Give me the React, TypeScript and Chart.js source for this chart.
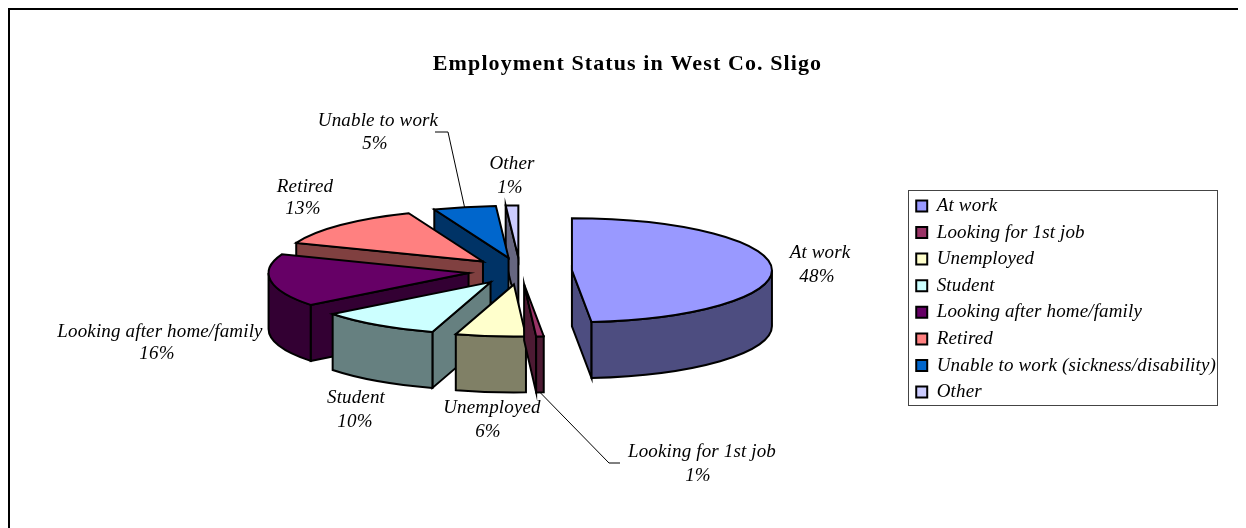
import React, { useEffect, useRef } from "react";
import { Chart, registerables } from "chart.js";

Chart.register(...registerables);

const categories = [
  "At work",
  "Looking for 1st job",
  "Unemployed",
  "Student",
  "Looking after home/family",
  "Retired",
  "Unable to work (sickness/disability)",
  "Other",
];
const calloutNames = [
  "At work",
  "Looking for 1st job",
  "Unemployed",
  "Student",
  "Looking after home/family",
  "Retired",
  "Unable to work",
  "Other",
];
const shares = [48, 0.6, 5.6, 9.7, 16.2, 13, 5, 1];
const shareLabels = ["48%", "1%", "6%", "10%", "16%", "13%", "5%", "1%"];
const sliceColors = ["#9999FF", "#993366", "#FFFFCC", "#CCFFFF", "#660066", "#FF8080", "#0066CC", "#CCCCFF"];

// Layout of the callouts, canvas pixels (page minus the 8px body margin).
const calloutCentres = [
  [812, 245, 809, 269],
  [694, 444, 690, 468],
  [484, 400, 480, 424],
  [348, 390, 347, 414],
  [152, 324, 149, 346],
  [297, 179, 295, 201],
  [370, 113, 367, 136],
  [504, 156, 502, 180],
];
const leaders: Record<number, number[][]> = {
  6: [[427, 124], [440, 124]],
  1: [[612, 455], [601, 455]],
};

const PIE = { cx: 512, cy: 263, radius: 200, squash: 0.26, depth: 56, explode: 52 };
const CANVAS_W = 1238;
const CANVAS_H = 520;
const SERIF = "'Liberation Serif', serif";
const LABEL_SPACING = "0.15px";
const TITLE_SPACING = "1.1px";

function shade(hex: string) {
  const n = parseInt(hex.slice(1), 16);
  const f = (v: number) => Math.round(v * 0.5);
  return `rgb(${f((n >> 16) & 255)},${f((n >> 8) & 255)},${f(n & 255)})`;
}

const pie3d = {
  id: "pie3d",
  beforeLayout(chart: any) {
    chart.ctx.letterSpacing = LABEL_SPACING;
  },
  beforeDraw(chart: any) {
    const { ctx } = chart;
    const tb = chart.titleBlock;
    if (tb && !tb.__spaced) {
      const orig = tb.draw;
      tb.draw = function () {
        ctx.letterSpacing = TITLE_SPACING;
        orig.call(this);
        ctx.letterSpacing = LABEL_SPACING;
      };
      tb.__spaced = true;
    }
    ctx.save();
    ctx.fillStyle = "#fff";
    ctx.fillRect(0, 0, CANVAS_W, CANVAS_H);
    ctx.fillStyle = "#000";
    ctx.fillRect(0, 0, CANVAS_W, 2);
    ctx.fillRect(0, 0, 2, CANVAS_H);
    ctx.restore();
  },
  beforeDatasetsDraw(chart: any) {
    const { ctx } = chart;
    const arcs: any[] = chart.getDatasetMeta(0).data;
    const k = PIE.squash;
    const items = arcs.map((arc, i) => {
      const a0 = arc.startAngle;
      const a1 = arc.endAngle;
      const mid = (a0 + a1) / 2;
      const off = arc.options.offset;
      return {
        i,
        a0,
        a1,
        mid,
        r: arc.outerRadius,
        x: PIE.cx + Math.cos(mid) * off,
        y: PIE.cy + Math.sin(mid) * off * k,
        color: sliceColors[i],
      };
    });
    const order = [...items].sort((p, q) => Math.sin(p.mid) - Math.sin(q.mid));

    ctx.save();
    ctx.lineWidth = 2;
    ctx.lineJoin = "miter";
    ctx.strokeStyle = "#000";

    const rim = (s: any, a: number) => [s.x + Math.cos(a) * s.r, s.y + Math.sin(a) * s.r * k];
    const paint = (fill: string) => {
      ctx.fillStyle = fill;
      ctx.fill();
      ctx.stroke();
    };
    const sideQuad = (s: any, a: number) => {
      const [px, py] = rim(s, a);
      ctx.beginPath();
      ctx.moveTo(s.x, s.y);
      ctx.lineTo(px, py);
      ctx.lineTo(px, py + PIE.depth);
      ctx.lineTo(s.x, s.y + PIE.depth);
      ctx.closePath();
    };
    const ellipse = (s: any, y: number, a0: number, a1: number, ccw = false) =>
      ctx.ellipse(s.x, y, s.r, s.r * k, 0, a0, a1, ccw);

    for (const s of order) {
      const dark = shade(s.color);
      // a side face shows when its outward normal points towards the viewer (down the canvas)
      if (Math.cos(s.a0) < 0) {
        sideQuad(s, s.a0);
        paint(dark);
      }
      if (Math.cos(s.a1) > 0) {
        sideQuad(s, s.a1);
        paint(dark);
      }
      const w0 = Math.max(s.a0, 0);
      const w1 = Math.min(s.a1, Math.PI);
      if (w1 > w0) {
        ctx.beginPath();
        ellipse(s, s.y, w0, w1);
        ellipse(s, s.y + PIE.depth, w1, w0, true);
        ctx.closePath();
        paint(dark);
      }
      ctx.beginPath();
      ctx.moveTo(s.x, s.y);
      ellipse(s, s.y, s.a0, s.a1);
      ctx.closePath();
      paint(s.color);
    }

    // leader lines run from the rim of the slice to the label
    ctx.lineWidth = 1;
    for (const key of Object.keys(leaders)) {
      const s = items[Number(key)];
      const pts = leaders[Number(key)];
      const [px, py] = rim(s, s.mid);
      ctx.beginPath();
      ctx.moveTo(pts[0][0], pts[0][1]);
      ctx.lineTo(pts[1][0], pts[1][1]);
      ctx.lineTo(px, py + (Math.sin(s.mid) > 0 ? PIE.depth : 0));
      ctx.stroke();
    }

    ctx.fillStyle = "#000";
    ctx.font = `italic 19px ${SERIF}`;
    ctx.textAlign = "center";
    ctx.textBaseline = "middle";
    calloutCentres.forEach((c, i) => {
      ctx.fillText(calloutNames[i], c[0], c[1]);
      ctx.fillText(shareLabels[i], c[2], c[3]);
    });

    // legend frame
    ctx.lineWidth = 1;
    ctx.strokeStyle = "#444";
    ctx.strokeRect(900.5, 182.5, 309, 215);
    ctx.restore();
    return false;
  },
};

export default function App() {
  const ref = useRef<HTMLCanvasElement | null>(null);
  useEffect(() => {
    const canvas = ref.current!;
    const chart = new Chart(canvas, {
      type: "pie",
      data: {
        labels: categories,
        datasets: [
          {
            data: shares,
            backgroundColor: sliceColors,
            borderColor: "#000",
            borderWidth: 2,
            offset: PIE.explode,
            radius: PIE.radius,
          } as any,
        ],
      },
      plugins: [pie3d],
      options: {
        responsive: false,
        animation: false,
        layout: { padding: { left: 21, right: 20, bottom: 7.4 } },
        plugins: {
          title: {
            display: true,
            text: "Employment Status in West Co. Sligo",
            color: "#000",
            font: { family: SERIF, size: 22, weight: "bold" },
            padding: { top: 43, bottom: 0 },
          },
          tooltip: { enabled: false },
          legend: {
            position: "right",
            fullSize: false,
            labels: {
              color: "#000",
              boxWidth: 11,
              boxHeight: 11,
              padding: 7.6,
              font: { family: SERIF, size: 19, style: "italic" },
            },
          },
        },
      },
    } as any);
    return () => chart.destroy();
  }, []);
  return <canvas ref={ref} width={CANVAS_W} height={CANVAS_H} style={{ display: "block" }} />;
}
